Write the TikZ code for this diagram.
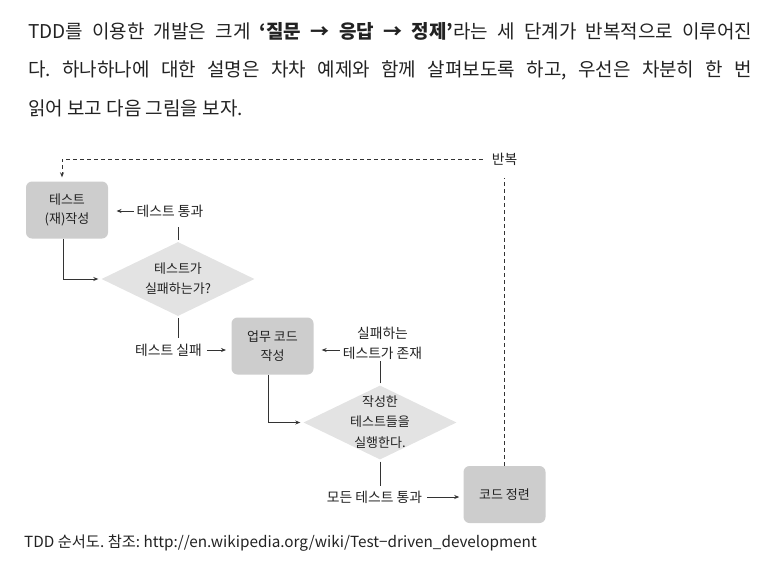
\documentclass[tikz,border=0pt]{standalone}
\usepackage{fontspec}
\setmainfont{Noto Sans CJK KR}
\usetikzlibrary{shapes.geometric,arrows.meta}
\definecolor{boxgray}{HTML}{CDCDCD}
\definecolor{diagray}{HTML}{E3E3E3}
\definecolor{ink}{HTML}{222222}
\definecolor{lineclr}{HTML}{333333}
\newcommand\dtext[1]{\makebox[0pt]{\smash{\raisebox{-0.25em}{\begin{tabular}{@{}c@{}}#1\end{tabular}}}}}
\frenchspacing
\begin{document}
\begin{tikzpicture}[x=1pt,y=-1pt,
  box/.style={draw=none, fill=boxgray, rounded corners=6pt, minimum width=82pt, minimum height=57pt, inner sep=0pt, align=center, text=ink, font=\fontsize{13}{19.5}\selectfont},
  dia/.style={diamond, fill=diagray, minimum width=153pt, minimum height=74pt, inner sep=0pt, text=ink, font=\fontsize{13}{20.5}\selectfont},
  lbl/.style={inner sep=0pt, align=center, text=ink, font=\fontsize{13.8}{20}\selectfont},
  arr/.style={draw=lineclr, line width=0.8pt, -{Stealth[length=5pt,width=4pt]}},
  ln/.style={draw=lineclr, line width=0.8pt},
  dsh/.style={draw=lineclr, line width=0.8pt, dash pattern=on 3.5pt off 3.5pt},
  body/.style={anchor=base west, inner sep=0pt, font=\fontsize{19}{22}\selectfont, text=ink},
]
\useasboundingbox (0,0) rectangle (773,578);

% paragraph
\node[body] (t1) at (28,38) {\makebox[724pt][s]{TDD를 이용한 개발은 크게 {\bfseries ‘질문 → 응답 → 정제’}라는 세 단계가 반복적으로 이루어진}};
\node[body] (t2) at (28,77) {\makebox[724pt][s]{다. 하나하나에 대한 설명은 차차 예제와 함께 살펴보도록 하고, 우선은 차분히 한 번}};
\node[body] (t3) at (28,115) {읽어 보고 다음 그림을 보자.};

% nodes
\node[box] (b1) at (67,210) {테스트\\(재)작성};
\node[dia] (d1) at (178,279) {\dtext{테스트가\\실패하는가?}};
\node[box] (b2) at (272.5,346) {업무 코드\\작성};
\node[dia] (d2) at (380,422.5) {\dtext{작성한\\테스트들을\\실행한다.}};
\node[box] (b3) at (504.5,494.5) {코드 정련};

\node[lbl] (l1) at (170,211) {테스트 통과};
\node[lbl] (l2) at (168.5,350) {테스트 실패};
\node[lbl] (l3) at (382.5,343) {실패하는\\테스트가 존재};
\node[lbl] (l4) at (374.5,497) {모든 테스트 통과};
\node[lbl] (rep) at (504.5,159) {반복};
\coordinate (c1) at (62,159);

% connectors
\draw[arr, shorten >=3pt] ([xshift=-4pt]b1.south) |- (d1.west);
\draw[ln] ([yshift=2pt]d1.north) -- ++(0,-13);
\draw[arr] ([xshift=-3pt]l1.west) -- ++(-17,0);
\draw[ln] ([yshift=-2pt]d1.south) -- ++(0,20);
\draw[arr] ([xshift=5pt]l2.east) -- ++(19,0);
\draw[arr, shorten >=3pt] ([xshift=-4pt]b2.south) |- (d2.west);
\draw[arr] ([shift={(-3pt,-7pt)}]l3.west) -- ++(-18,0);
\draw[ln] ([yshift=2pt]d2.north) -- ++(0,-22);
\draw[ln] ([yshift=-2pt]d2.south) -- ++(0,24);
\draw[arr] ([xshift=5pt]l4.east) -- ++(32,0);

% repeat loop
\draw[dsh] (b3.north) -- ([yshift=-13pt]rep.south);
\draw[dsh, -{Stealth[length=5pt,width=4pt]}, shorten >=4pt] ([xshift=-9pt]rep.west) -- (c1) -- (c1 |- b1.north);

% caption
\node[anchor=west, inner sep=0pt, text=ink, font=\fontsize{15.3}{17}\selectfont] (cap) at (24,543) {TDD 순서도. 참조: http://en.wikipedia.org/wiki/Test−driven\_development};
\end{tikzpicture}
\end{document}
